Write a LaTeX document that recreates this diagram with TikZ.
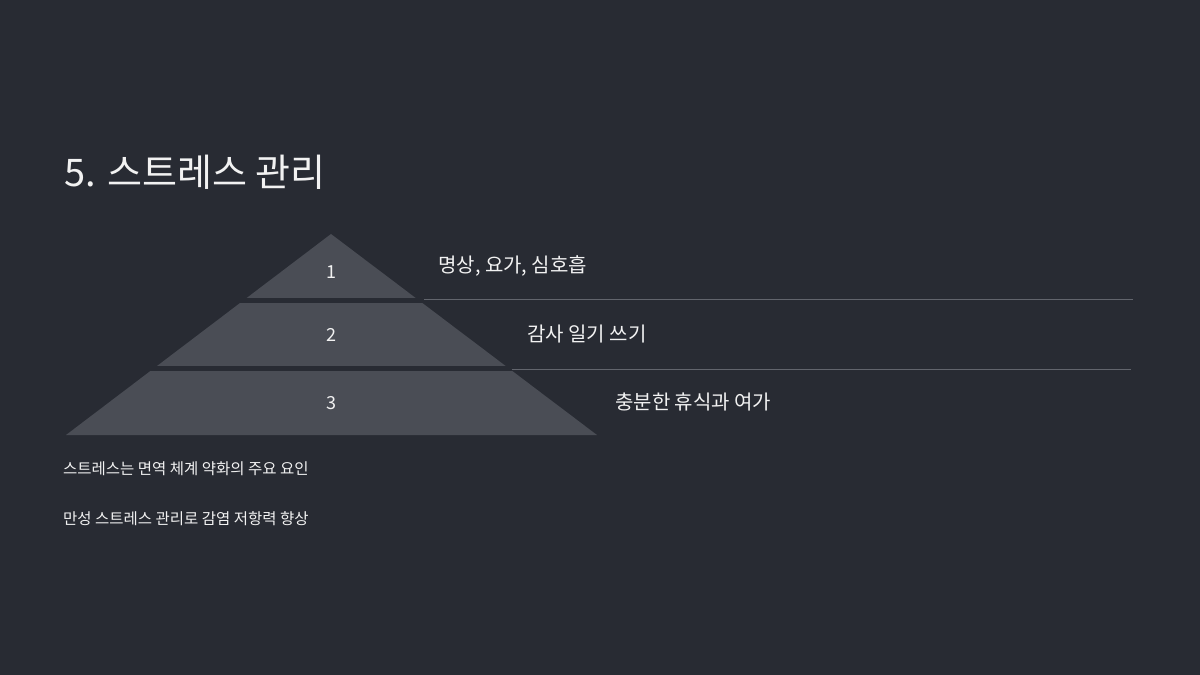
\documentclass[tikz,border=0pt]{standalone}
\usepackage{fontspec}
\setmainfont{Noto Sans CJK KR}
\definecolor{bg}{HTML}{282B33}
\definecolor{tier}{HTML}{4A4D55}
\definecolor{rule}{HTML}{62656D}
\definecolor{txt}{HTML}{F2F2F2}
\begin{document}
\begin{tikzpicture}[x=1pt,y=-1pt,
  lbl/.style={anchor=west,text=txt,font=\fontsize{20}{24}\selectfont,inner sep=0},
  num/.style={text=txt,font=\fontsize{18}{22}\selectfont,inner sep=0},
  note/.style={anchor=west,text=txt,font=\fontsize{15.5}{19}\selectfont,inner sep=0}]
\fill[bg] (0,0) rectangle (1200,675);
\useasboundingbox (0,0) rectangle (1200,675);
\fill[tier] (331,234) -- (597,435) -- (66,435) -- cycle;
\draw[bg,line width=5pt] (150,300.5) -- (520,300.5);
\draw[bg,line width=5pt] (100,368.5) -- (610,368.5);
\draw[rule,line width=0.8pt] (424,299.5) -- (1133,299.5);
\draw[rule,line width=0.8pt] (512,369) -- (1131,369);
\node[anchor=west,text=txt,font=\fontsize{38}{44}\selectfont,inner sep=0] (title) at (64,172) {5. 스트레스 관리};
\node[num] (n1) at (331,272) {1};
\node[num] (n2) at (331,335) {2};
\node[num] (n3) at (331,403) {3};
\node[lbl] (l1) at (438,266) {명상, 요가, 심호흡};
\node[lbl] (l2) at (527,334) {감사 일기 쓰기};
\node[lbl] (l3) at (615,402) {충분한 휴식과 여가};
\node[note] (b1) at (63,469) {스트레스는 면역 체계 약화의 주요 요인};
\node[note] (b2) at (63,519) {만성 스트레스 관리로 감염 저항력 향상};
\end{tikzpicture}
\end{document}
